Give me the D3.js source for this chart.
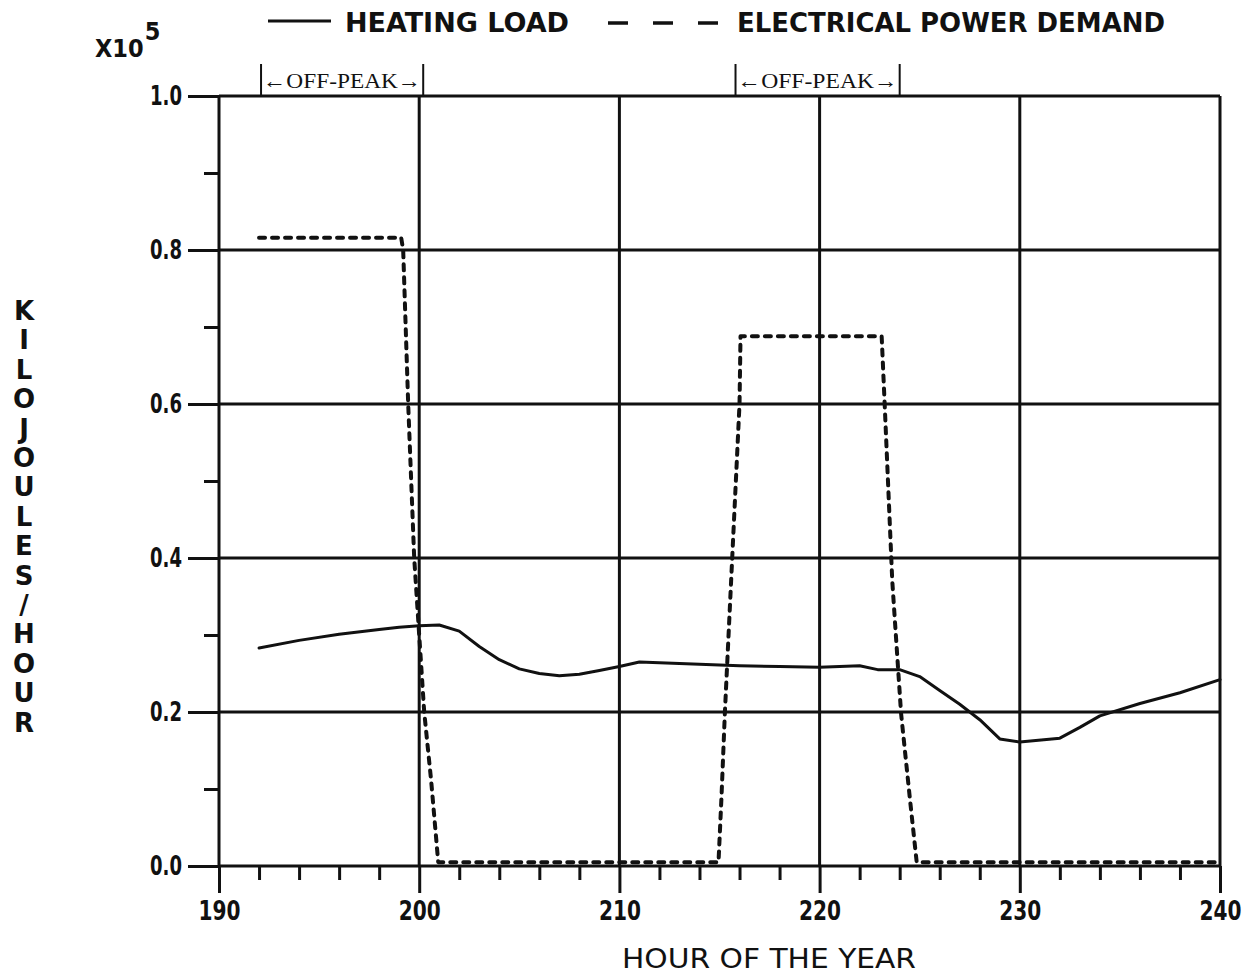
<!DOCTYPE html>
<html>
<head>
<meta charset="utf-8">
<script src="https://cdn.jsdelivr.net/npm/d3@7"></script>
<style>
  body { margin: 0; background: #fff; }
</style>
</head>
<body>
<div id="chart"></div>
<script>
// values, in units of 1e5 kJ/hour
var heatHours = [192, 194, 196, 198, 199, 200, 201, 202, 203, 204, 205, 206, 207, 208, 209, 210, 211, 212, 213, 214, 216, 218, 220, 222, 222.9, 224, 225, 226, 227, 228, 229, 230, 232, 233, 234, 236, 238, 240];
var heatLoad  = [0.283, 0.293, 0.301, 0.307, 0.310, 0.312, 0.313, 0.305, 0.285, 0.268, 0.256, 0.250, 0.247, 0.249, 0.254, 0.259, 0.265, 0.264, 0.263, 0.262, 0.260, 0.259, 0.258, 0.260, 0.255, 0.255, 0.246, 0.228, 0.210, 0.190, 0.165, 0.161, 0.166, 0.180, 0.195, 0.211, 0.225, 0.242];

var demandHours = [192, 199.1, 199.2, 199.45, 199.75, 200.25, 200.6, 200.95, 214.95, 215.1, 215.27, 215.58, 216.0, 216.05, 223.1, 223.25, 223.63, 224.07, 224.5, 224.85, 240];
var demandLoad  = [0.816, 0.816, 0.8, 0.6, 0.4, 0.2, 0.11, 0.005, 0.005, 0.09, 0.2, 0.37, 0.6, 0.688, 0.688, 0.6, 0.37, 0.198, 0.09, 0.005, 0.005];

var offPeak = [[192.1, 200.2], [215.8, 224.0]];

var xMajor = [190, 200, 210, 220, 230, 240];
var xMinor = [192, 194, 196, 198, 202, 204, 206, 208, 212, 214, 216, 218, 222, 224, 226, 228, 232, 234, 236, 238];
var yMajor = [0.0, 0.2, 0.4, 0.6, 0.8, 1.0];
var yMinor = [0.1, 0.3, 0.5, 0.7, 0.9];
var yTitle = "KILOJOULES/HOUR";

var width = 1258, height = 976;
var plotLeft = 219, plotRight = 1220, plotTop = 96, plotBottom = 866;

var svg = d3.select('#chart').append('svg')
    .attr('width', width)
    .attr('height', height);

var x = d3.scaleLinear().domain([190, 240]).range([plotLeft, plotRight]);
var y = d3.scaleLinear().domain([0, 1]).range([plotBottom, plotTop]);

var ink = '#111';

// grid lines
svg.selectAll('.vgrid')
    .data(xMajor)
    .enter().append('line')
    .attr('x1', function (d) { return x(d); })
    .attr('x2', function (d) { return x(d); })
    .attr('y1', plotTop)
    .attr('y2', plotBottom)
    .style('stroke', ink)
    .attr('stroke-width', 3);

svg.selectAll('.hgrid')
    .data(yMajor)
    .enter().append('line')
    .attr('x1', plotLeft)
    .attr('x2', plotRight)
    .attr('y1', function (d) { return y(d); })
    .attr('y2', function (d) { return y(d); })
    .style('stroke', ink)
    .attr('stroke-width', 3);

// axes (ticks + labels only, the frame comes from the grid)
var xAxis = svg.append('g')
    .attr('transform', 'translate(0,' + plotBottom + ')')
    .call(d3.axisBottom(x).tickValues(xMajor).tickSize(27).tickPadding(9).tickFormat(d3.format('d')));
xAxis.select('.domain').remove();
xAxis.selectAll('line').attr('stroke', ink).attr('stroke-width', 3);
xAxis.selectAll('text')
    .attr('fill', ink)
    .style('font-family', '"DejaVu Sans Condensed", "DejaVu Sans", sans-serif')
    .style('font-weight', 'bold')
    .style('font-size', '26px')
    .attr('textLength', 42)
    .attr('lengthAdjust', 'spacingAndGlyphs')
    .attr('dy', '0.71em');

var xMinorAxis = svg.append('g')
    .attr('transform', 'translate(0,' + plotBottom + ')')
    .call(d3.axisBottom(x).tickValues(xMinor).tickSize(14).tickFormat(''));
xMinorAxis.select('.domain').remove();
xMinorAxis.selectAll('line').attr('stroke', ink).attr('stroke-width', 3);

var yAxis = svg.append('g')
    .attr('transform', 'translate(' + plotLeft + ',0)')
    .call(d3.axisLeft(y).tickValues(yMajor).tickSize(31).tickPadding(6).tickFormat(d3.format('.1f')));
yAxis.select('.domain').remove();
yAxis.selectAll('line').attr('stroke', ink).attr('stroke-width', 3);
yAxis.selectAll('text')
    .attr('fill', ink)
    .style('font-family', '"DejaVu Sans Condensed", "DejaVu Sans", sans-serif')
    .style('font-weight', 'bold')
    .style('font-size', '27px')
    .attr('textLength', 32)
    .attr('lengthAdjust', 'spacingAndGlyphs');

var yMinorAxis = svg.append('g')
    .attr('transform', 'translate(' + plotLeft + ',0)')
    .call(d3.axisLeft(y).tickValues(yMinor).tickSize(15).tickFormat(''));
yMinorAxis.select('.domain').remove();
yMinorAxis.selectAll('line').attr('stroke', ink).attr('stroke-width', 3);

// data lines
var heat = heatHours.map(function (h, i) { return [h, heatLoad[i]]; });
var demand = demandHours.map(function (h, i) { return [h, demandLoad[i]]; });

var line = d3.line()
    .x(function (d) { return x(d[0]); })
    .y(function (d) { return y(d[1]); });

svg.append('path')
    .datum(heat)
    .attr('d', line)
    .style('fill', 'none')
    .style('stroke', ink)
    .attr('stroke-width', 3)
    .attr('stroke-linejoin', 'round')
    .attr('stroke-linecap', 'round');

svg.append('path')
    .datum(demand)
    .attr('d', line)
    .style('fill', 'none')
    .style('stroke', ink)
    .attr('stroke-width', 4)
    .attr('stroke-dasharray', '6,7')
    .attr('stroke-linecap', 'round')
    .attr('stroke-linejoin', 'round');

// off-peak brackets above the frame
offPeak.forEach(function (p) {
    [p[0], p[1]].forEach(function (h) {
        svg.append('line')
            .attr('x1', x(h)).attr('x2', x(h))
            .attr('y1', 64).attr('y2', plotTop)
            .style('stroke', ink)
            .attr('stroke-width', 2);
    });
    svg.append('text')
        .attr('x', (x(p[0]) + x(p[1])) / 2)
        .attr('y', 88)
        .attr('text-anchor', 'middle')
        .attr('textLength', x(p[1]) - x(p[0]) - 4)
        .attr('lengthAdjust', 'spacingAndGlyphs')
        .style('font-family', '"Liberation Serif", serif')
        .style('font-size', '22px')
        .attr('fill', ink)
        .text('\u2190OFF-PEAK\u2192');
});

// scale factor label
var sf = svg.append('text')
    .attr('x', 95)
    .attr('y', 57)
    .attr('fill', ink)
    .style('font-family', '"DejaVu Sans Condensed", "DejaVu Sans", sans-serif')
    .style('font-weight', 'bold');
sf.append('tspan').style('font-size', '25px').text('X10');
sf.append('tspan').attr('dy', -17).attr('dx', 1).style('font-size', '25px').text('5');

// legend
var legendFont = '"DejaVu Sans Condensed", "DejaVu Sans", sans-serif';
svg.append('line')
    .attr('x1', 268).attr('x2', 331)
    .attr('y1', 21).attr('y2', 21)
    .style('stroke', ink)
    .attr('stroke-width', 3);
svg.append('text')
    .attr('x', 345).attr('y', 32)
    .attr('textLength', 224)
    .attr('lengthAdjust', 'spacingAndGlyphs')
    .style('font-family', legendFont)
    .style('font-weight', 'bold')
    .style('font-size', '27px')
    .attr('fill', ink)
    .text('HEATING LOAD');
svg.append('line')
    .attr('x1', 608).attr('x2', 718)
    .attr('y1', 23).attr('y2', 23)
    .style('stroke', ink)
    .attr('stroke-width', 3.5)
    .attr('stroke-dasharray', '20,25');
svg.append('text')
    .attr('x', 737).attr('y', 32)
    .attr('textLength', 428)
    .attr('lengthAdjust', 'spacingAndGlyphs')
    .style('font-family', legendFont)
    .style('font-weight', 'bold')
    .style('font-size', '27px')
    .attr('fill', ink)
    .text('ELECTRICAL POWER DEMAND');

// axis titles
svg.append('text')
    .attr('x', 769)
    .attr('y', 968)
    .attr('text-anchor', 'middle')
    .attr('textLength', 294)
    .attr('lengthAdjust', 'spacingAndGlyphs')
    .style('font-family', legendFont)
    .style('font-size', '26px')
    .attr('fill', ink)
    .text('HOUR OF THE YEAR');

var yt = svg.append('text')
    .attr('text-anchor', 'middle')
    .style('font-family', '"DejaVu Sans", sans-serif')
    .style('font-weight', 'bold')
    .style('font-size', '26px')
    .attr('fill', ink);
yTitle.split('').forEach(function (c, i) {
    yt.append('tspan')
        .attr('x', 24)
        .attr('y', 320 + i * 29.4)
        .text(c);
});
</script>
</body>
</html>
